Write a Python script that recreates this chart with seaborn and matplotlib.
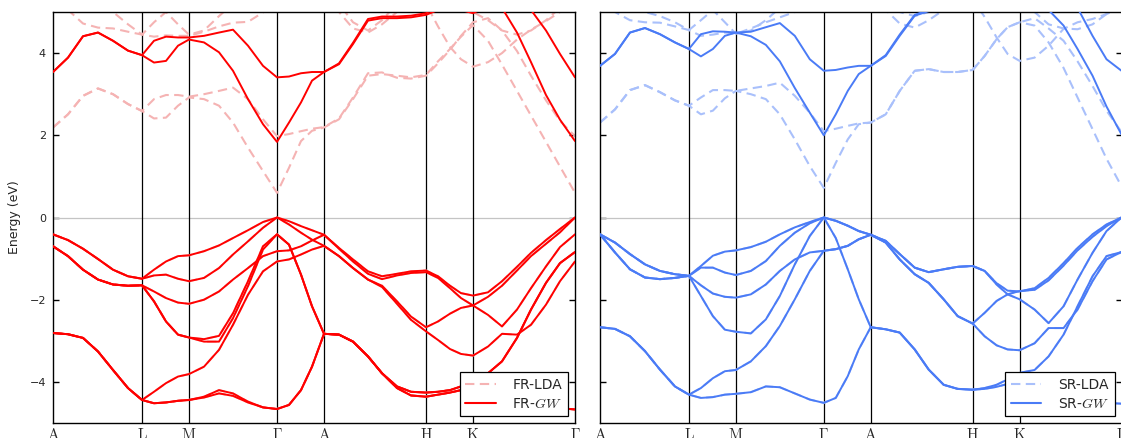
import matplotlib
matplotlib.use("Agg")
import matplotlib.pyplot as plt
from matplotlib.lines import Line2D
import seaborn as sns

sns.set_theme(style="white")
plt.rcParams['font.family'] = ['DejaVu Sans']
plt.rcParams['mathtext.fontset'] = 'cm'

# k-path sampling (path length units) and high-symmetry points
K_GRID = [0, 15, 30, 45, 60, 75, 89, 101, 113, 125, 136, 151, 166, 180, 195, 210, 224,
          236, 248, 259, 271, 286, 300, 315, 329, 344, 358, 373, 385, 397, 408, 420,
          435, 449, 464, 478, 493, 507, 522]
HS_POS = [0, 89, 136, 224, 271, 373, 420, 522]
HS_LABELS = [r'$\mathrm{A}$', r'$\mathrm{L}$', r'$\mathrm{M}$', r'$\Gamma$',
             r'$\mathrm{A}$', r'$\mathrm{H}$', r'$\mathrm{K}$', r'$\Gamma$']

# ---- fully relativistic (FR) valence bands, eV ----
fr_v1 = [-0.41, -0.55, -0.76, -1.01, -1.27, -1.43, -1.49, -1.27, -1.07, -0.94, -0.92,
         -0.82, -0.68, -0.50, -0.31, -0.11, 0.00, -0.09, -0.21, -0.31, -0.42,
         -0.74, -1.02, -1.31, -1.43, -1.37, -1.31, -1.29, -1.43, -1.66, -1.84, -1.90,
         -1.82, -1.55, -1.20, -0.86, -0.55, -0.28, 0.00]
fr_v2 = [-0.41, -0.55, -0.76, -1.01, -1.27, -1.43, -1.49, -1.41, -1.39, -1.49, -1.55,
         -1.47, -1.23, -0.90, -0.58, -0.25, 0.00, -0.17, -0.37, -0.54, -0.69,
         -0.94, -1.23, -1.51, -1.66, -2.04, -2.41, -2.67, -2.53, -2.34, -2.20, -2.14,
         -1.93, -1.66, -1.29, -0.94, -0.64, -0.36, 0.00]
fr_v3 = [-0.70, -0.94, -1.27, -1.51, -1.63, -1.66, -1.65, -1.80, -1.96, -2.07, -2.10,
         -2.00, -1.80, -1.51, -1.23, -0.94, -0.82, -0.80, -0.70, -0.56, -0.42,
         -0.76, -1.07, -1.37, -1.50, -1.41, -1.35, -1.33, -1.47, -1.72, -1.96, -2.14,
         -2.37, -2.65, -2.24, -1.72, -1.19, -0.72, -0.41]
fr_v4 = [-0.70, -0.94, -1.27, -1.51, -1.63, -1.66, -1.65, -2.04, -2.53, -2.85, -2.92,
         -2.96, -2.88, -2.33, -1.55, -0.70, -0.41, -0.66, -1.39, -2.16, -2.83,
         -2.85, -3.02, -3.38, -3.79, -4.11, -4.24, -4.26, -4.24, -4.20, -4.11, -4.03,
         -3.79, -3.50, -2.93, -2.24, -1.59, -1.11, -0.84]
fr_v4b = [-0.70, -0.94, -1.27, -1.51, -1.63, -1.66, -1.65, -2.04, -2.53, -2.85, -2.92,
          -3.02, -3.02, -2.45, -1.67, -0.78, -0.41, -0.66, -1.39, -2.16, -2.83,
          -2.85, -3.02, -3.38, -3.79, -4.11, -4.24, -4.26, -4.24, -4.20, -4.11, -4.03,
          -3.79, -3.50, -2.93, -2.24, -1.59, -1.11, -0.84]
fr_v5 = [-2.81, -2.84, -2.93, -3.26, -3.71, -4.15, -4.44, -4.24, -4.03, -3.87, -3.81,
         -3.63, -3.22, -2.61, -1.88, -1.31, -1.07, -1.02, -0.90, -0.78, -0.69,
         -0.94, -1.23, -1.51, -1.69, -2.10, -2.49, -2.77, -2.98, -3.20, -3.32, -3.36,
         -3.14, -2.83, -2.85, -2.61, -2.12, -1.55, -1.07]
fr_v6 = [-2.81, -2.84, -2.93, -3.26, -3.71, -4.15, -4.44, -4.52, -4.50, -4.46, -4.44,
         -4.36, -4.20, -4.28, -4.48, -4.62, -4.66, -4.56, -4.20, -3.63, -2.83,
         -2.85, -3.02, -3.38, -3.79, -4.15, -4.33, -4.36, -4.31, -4.26, -4.20, -4.11,
         -4.20, -4.30, -4.40, -4.50, -4.58, -4.64, -4.67]
fr_v6b = [-2.81, -2.84, -2.93, -3.26, -3.71, -4.15, -4.44, -4.52, -4.50, -4.46, -4.44,
          -4.38, -4.28, -4.34, -4.50, -4.62, -4.66, -4.56, -4.20, -3.63, -2.83,
          -2.85, -3.02, -3.38, -3.79, -4.15, -4.33, -4.36, -4.31, -4.26, -4.20, -4.11,
          -4.20, -4.30, -4.40, -4.50, -4.58, -4.64, -4.67]

# ---- FR conduction bands: GW ----
fr_gw_c1 = [3.54, 3.89, 4.41, 4.50, 4.30, 4.06, 3.95, 3.77, 3.81, 4.18, 4.33,
            4.26, 4.02, 3.57, 2.88, 2.27, 1.84, 2.31, 2.80, 3.33, 3.54,
            3.73, 4.22, 4.79, 4.85, 4.85, 4.87, 4.93, 5.05, 5.10, 5.05, 4.97,
            5.15, 5.10, 4.50, 3.78, 2.98, 2.38, 1.86]
fr_gw_c2 = [3.54, 3.89, 4.41, 4.50, 4.30, 4.06, 3.95, 4.30, 4.40, 4.38, 4.38,
            4.42, 4.50, 4.57, 4.18, 3.69, 3.41, 3.43, 3.51, 3.54, 3.54,
            3.75, 4.25, 4.83, 4.89, 4.89, 4.91, 4.97, 5.15, 5.25, 5.30, 5.30,
            5.35, 5.40, 5.30, 5.05, 4.55, 3.98, 3.41]

# ---- FR conduction bands: LDA ----
fr_lda_c1 = [2.19, 2.51, 2.96, 3.14, 3.00, 2.76, 2.59, 2.41, 2.43, 2.72, 2.92,
             2.88, 2.72, 2.31, 1.70, 1.13, 0.60, 1.21, 1.86, 2.11, 2.19,
             2.39, 2.88, 3.45, 3.49, 3.45, 3.41, 3.47, 3.80, 4.10, 4.40, 4.68,
             4.30, 3.72, 3.08, 2.48, 1.84, 1.24, 0.60]
fr_lda_c2 = [2.19, 2.51, 2.96, 3.14, 3.00, 2.76, 2.59, 2.88, 2.98, 2.98, 2.94,
             3.00, 3.08, 3.16, 2.88, 2.39, 1.98, 2.03, 2.10, 2.16, 2.20,
             2.41, 2.92, 3.51, 3.53, 3.40, 3.38, 3.45, 3.75, 4.08, 4.42, 4.75,
             4.85, 4.55, 4.05, 3.45, 2.85, 2.35, 1.98]
fr_lda_c3 = [5.40, 5.05, 4.72, 4.62, 4.60, 4.52, 4.45, 4.40, 4.43, 4.42, 4.42,
             4.52, 4.65, 4.74, 4.76, 4.99, 5.30, 5.40, 5.50, 5.40, 5.30,
             5.00, 4.60, 4.50, 4.70, 5.00, 5.30, 5.20, 4.65, 4.15, 3.85, 3.67,
             3.78, 4.00, 4.33, 4.57, 4.78, 5.00, 5.20]
fr_lda_c4 = [5.60, 5.40, 5.20, 5.10, 5.00, 4.70, 4.45, 4.75, 5.00, 4.70, 4.45,
             4.55, 4.90, 5.20, 5.40, 5.50, 5.60, 5.60, 5.60, 5.50, 5.40,
             5.20, 4.75, 4.55, 4.80, 5.20, 5.50, 5.60, 5.50, 5.30, 5.10, 5.00,
             4.80, 4.55, 4.45, 4.55, 4.80, 5.10, 5.40]

# ---- scalar relativistic (SR) valence bands, eV ----
sr_v1 = [-0.41, -0.61, -0.89, -1.14, -1.30, -1.38, -1.42, -1.18, -0.93, -0.83, -0.80,
         -0.72, -0.59, -0.41, -0.24, -0.11, 0.00, -0.08, -0.20, -0.33, -0.42,
         -0.57, -0.89, -1.22, -1.33, -1.26, -1.20, -1.18, -1.30, -1.63, -1.87, -1.99,
         -2.24, -2.57, -2.16, -1.51, -0.86, -0.33, 0.00]
sr_v2 = [-0.41, -0.61, -0.89, -1.14, -1.30, -1.38, -1.42, -1.22, -1.22, -1.34, -1.40,
         -1.30, -1.06, -0.69, -0.37, -0.14, 0.00, -0.08, -0.20, -0.33, -0.42,
         -0.61, -1.02, -1.38, -1.59, -1.99, -2.40, -2.58, -2.32, -2.03, -1.87, -1.79,
         -1.76, -1.53, -1.17, -0.80, -0.47, -0.21, 0.00]
sr_v3 = [-0.41, -0.85, -1.26, -1.46, -1.50, -1.47, -1.42, -1.65, -1.85, -1.93, -1.95,
         -1.87, -1.63, -1.30, -1.02, -0.85, -0.81, -0.77, -0.69, -0.53, -0.42,
         -0.57, -0.89, -1.22, -1.33, -1.26, -1.20, -1.18, -1.30, -1.60, -1.78, -1.80,
         -1.72, -1.47, -1.11, -0.74, -0.41, -0.17, 0.00]
sr_v4 = [-0.41, -0.85, -1.26, -1.46, -1.50, -1.47, -1.42, -1.91, -2.40, -2.73, -2.78,
         -2.82, -2.48, -1.91, -1.14, -0.45, 0.00, -0.50, -1.26, -1.99, -2.67,
         -2.72, -2.80, -3.21, -3.70, -4.07, -4.17, -4.19, -4.15, -4.07, -3.94, -3.78,
         -3.71, -3.38, -2.85, -2.16, -1.43, -0.94, -0.84]
sr_v5 = [-2.67, -2.71, -2.89, -3.25, -3.70, -4.11, -4.31, -4.15, -3.91, -3.74, -3.71,
         -3.50, -3.13, -2.64, -1.99, -1.30, -0.81, -0.77, -0.69, -0.53, -0.42,
         -0.61, -1.02, -1.38, -1.59, -1.99, -2.40, -2.58, -2.89, -3.11, -3.21, -3.23,
         -3.06, -2.69, -2.69, -2.24, -1.55, -1.02, -0.84]
sr_v6 = [-2.67, -2.71, -2.89, -3.25, -3.70, -4.11, -4.31, -4.39, -4.37, -4.31, -4.29,
         -4.25, -4.11, -4.13, -4.28, -4.43, -4.51, -4.39, -3.86, -3.21, -2.67,
         -2.72, -2.80, -3.21, -3.70, -4.07, -4.17, -4.19, -4.17, -4.12, -4.05, -4.00,
         -4.15, -4.25, -4.35, -4.42, -4.48, -4.51, -4.53]

# ---- SR conduction bands: GW ----
sr_gw_c1 = [3.69, 3.98, 4.50, 4.61, 4.46, 4.26, 4.10, 3.92, 4.10, 4.42, 4.50,
            4.41, 4.20, 3.80, 3.15, 2.55, 2.00, 2.51, 3.08, 3.49, 3.69,
            3.93, 4.42, 4.91, 5.02, 5.05, 5.08, 5.10, 5.15, 5.20, 5.20, 5.20,
            5.20, 5.05, 4.67, 4.10, 3.45, 2.70, 2.02]
sr_gw_c2 = [3.69, 3.98, 4.50, 4.61, 4.46, 4.26, 4.10, 4.46, 4.53, 4.52, 4.50,
            4.52, 4.63, 4.73, 4.42, 3.85, 3.57, 3.59, 3.65, 3.69, 3.69,
            3.95, 4.45, 4.93, 5.05, 5.08, 5.10, 5.15, 5.20, 5.30, 5.35, 5.40,
            5.45, 5.40, 5.30, 5.10, 4.42, 3.85, 3.57]

# ---- SR conduction bands: LDA ----
sr_lda_c1 = [2.31, 2.63, 3.10, 3.22, 3.05, 2.85, 2.72, 2.51, 2.60, 2.90, 3.08,
             3.00, 2.88, 2.51, 1.90, 1.25, 0.72, 1.33, 1.90, 2.27, 2.31,
             2.51, 3.08, 3.57, 3.61, 3.54, 3.54, 3.59, 3.93, 4.34, 4.63, 4.75,
             4.67, 4.26, 3.64, 2.92, 2.15, 1.43, 0.76]
sr_lda_c2 = [2.31, 2.63, 3.10, 3.22, 3.05, 2.85, 2.72, 2.92, 3.10, 3.10, 3.08,
             3.14, 3.20, 3.28, 2.96, 2.55, 2.10, 2.16, 2.23, 2.29, 2.31,
             2.51, 3.08, 3.57, 3.61, 3.54, 3.54, 3.59, 3.93, 4.34, 4.63, 4.75,
             4.85, 4.60, 4.30, 3.80, 3.20, 2.60, 2.08]
sr_lda_c3 = [5.30, 5.00, 4.80, 4.75, 4.74, 4.65, 4.56, 4.42, 4.45, 4.50, 4.47,
             4.60, 4.75, 4.87, 5.00, 5.20, 5.40, 5.50, 5.50, 5.40, 5.30,
             5.05, 4.72, 4.62, 4.80, 5.05, 5.30, 5.30, 4.88, 4.38, 3.98, 3.81,
             3.89, 4.18, 4.59, 4.75, 4.83, 4.95, 5.10]
sr_lda_c4 = [5.60, 5.40, 5.20, 5.00, 4.90, 4.75, 4.56, 4.80, 5.05, 4.75, 4.47,
             4.55, 4.80, 5.10, 5.30, 5.50, 5.60, 5.60, 5.60, 5.60, 5.50,
             5.30, 5.00, 4.90, 5.00, 5.30, 5.50, 5.60, 5.50, 5.40, 5.30, 5.20,
             5.00, 4.70, 4.60, 4.58, 4.70, 4.95, 5.20]

FR_VALENCE = [fr_v1, fr_v2, fr_v3, fr_v4, fr_v4b, fr_v5, fr_v6, fr_v6b]
SR_VALENCE = [sr_v1, sr_v2, sr_v3, sr_v4, sr_v5, sr_v6]

RED, PINK = '#ff0000', '#f5b3b3'
BLUE, LIGHTBLUE = '#4a7bf6', '#a9c0fb'

fig = plt.figure(figsize=(11.21, 4.38), dpi=100)
ax_fr = fig.add_axes([53 / 1121, 15 / 438, 522 / 1121, 411 / 438])
ax_sr = fig.add_axes([600 / 1121, 15 / 438, 521.5 / 1121, 411 / 438])


def draw_panel(ax, lda_bands, gw_bands, gw_color, lda_color, tag):
    ax.axhline(0, color='#c4c4c4', lw=0.9, zorder=1)
    for xv in HS_POS[1:-1]:
        ax.axvline(xv, color='black', lw=0.9, zorder=1)
    for e in lda_bands:
        sns.lineplot(x=K_GRID, y=e, ax=ax, color=lda_color, lw=1.5,
                     linestyle=(0, (4.5, 2.6)), sort=False, estimator=None, zorder=2)
    for e in gw_bands:
        sns.lineplot(x=K_GRID, y=e, ax=ax, color=gw_color, lw=1.4,
                     sort=False, estimator=None, zorder=3)
    ax.set_xlim(0, 522)
    ax.set_ylim(-5, 5)
    ax.set_xticks(HS_POS)
    ax.set_xticklabels(HS_LABELS, fontsize=11)
    ax.set_yticks([-4, -2, 0, 2, 4])
    ax.tick_params(axis='x', length=0, pad=3)
    ax.tick_params(axis='y', direction='in', length=4, width=1, left=True, right=True,
                   labelsize=8, color='black', pad=5)
    for s in ax.spines.values():
        s.set_color('black')
        s.set_linewidth(1.0)
    handles = [Line2D([], [], color=lda_color, lw=1.5, linestyle=(0, (4.5, 2.6))),
               Line2D([], [], color=gw_color, lw=1.5)]
    leg = ax.legend(handles, [f'{tag}-LDA', f'{tag}-$GW$'], loc='lower right',
                    fontsize=10, frameon=True, fancybox=False, framealpha=1,
                    edgecolor='black', borderaxespad=0.5, handlelength=2.2,
                    handletextpad=1.2, borderpad=0.4, labelspacing=0.35)
    leg.get_frame().set_linewidth(0.9)
    leg.set_zorder(5)


draw_panel(ax_fr, FR_VALENCE + [fr_lda_c1, fr_lda_c2, fr_lda_c3, fr_lda_c4],
           FR_VALENCE + [fr_gw_c1, fr_gw_c2], RED, PINK, 'FR')
draw_panel(ax_sr, SR_VALENCE + [sr_lda_c1, sr_lda_c2, sr_lda_c3, sr_lda_c4],
           SR_VALENCE + [sr_gw_c1, sr_gw_c2], BLUE, LIGHTBLUE, 'SR')

ax_fr.set_ylabel('Energy (eV)', fontsize=9, labelpad=6)
ax_sr.set_ylabel('')
ax_sr.tick_params(axis='y', labelleft=False)
ax_fr.set_xlabel('')
ax_sr.set_xlabel('')

fig.savefig('out.png', dpi=100)
